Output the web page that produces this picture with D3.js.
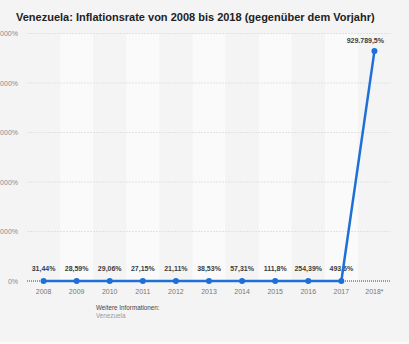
<!DOCTYPE html>
<html><head><meta charset="utf-8">
<script src="https://cdn.jsdelivr.net/npm/d3@7"></script>
<style>
html,body{margin:0;padding:0;background:#f4f4f4;}
svg{display:block;font-family:"Liberation Sans",Arial,sans-serif;}
</style></head>
<body>
<svg id="c" width="409" height="344"></svg>
<script>
const title = "Venezuela: Inflationsrate von 2008 bis 2018 (gegenüber dem Vorjahr)";
const years = ["2008","2009","2010","2011","2012","2013","2014","2015","2016","2017","2018*"];
const values = [31.44, 28.59, 29.06, 27.15, 21.11, 38.53, 57.31, 111.8, 254.39, 493.6, 929789.5];
const yTicks = [0, 200000, 400000, 600000, 800000, 1000000];
const infoLabel = "Weitere Informationen:";
const infoText = "Venezuela";

const de = d3.formatLocale({decimal:",", thousands:".", grouping:[3], currency:["","€"]});
const fmtVal = v => de.format(",.2~f")(v) + "%";
const fmtTick = v => de.format(",.0f")(v) + "%";

const svg = d3.select("#c");
svg.append("rect").attr("width",409).attr("height",344).attr("fill","#f4f4f4");
svg.append("rect").attr("y",342).attr("width",409).attr("height",2).attr("fill","#fbfbfb");

const pL = 27, pR = 391, pT = 33.5, pB = 281;
const x = d3.scaleBand().domain(years).range([pL,pR]).padding(0);
const y = d3.scaleLinear().domain([0,1000000]).range([pB, pT]);

// alternating bands
svg.append("g").selectAll("rect").data(years.filter((d,i)=>i%2===1)).join("rect")
  .attr("x", d=>x(d)).attr("y", pT).attr("width", x.bandwidth()).attr("height", pB-pT)
  .attr("fill","#fafafa");

// gridlines
svg.append("g").selectAll("line").data(yTicks.filter(d=>d>0)).join("line")
  .attr("x1",pL).attr("x2",pR).attr("y1",d=>y(d)).attr("y2",d=>y(d))
  .attr("stroke","#e2e2e2").attr("stroke-width",1).attr("stroke-dasharray","2,1");

// zero line
svg.append("line").attr("x1",pL).attr("x2",pR).attr("y1",y(0)).attr("y2",y(0))
  .attr("stroke","#9a9a9a").attr("stroke-width",2).attr("stroke-dasharray","1,1");

// y tick labels
svg.append("g").selectAll("text").data(yTicks).join("text")
  .attr("x",18).attr("y",d=>y(d)+2.5).attr("text-anchor","end")
  .attr("font-size",7).attr("fill","#8a8a8a").text(d=>fmtTick(d));

// x labels
svg.append("g").selectAll("text").data(years).join("text")
  .attr("x",d=>x(d)+x.bandwidth()/2).attr("y",294).attr("text-anchor","middle")
  .attr("font-size",7).attr("fill","#777").text(d=>d);

const pts = years.map((d,i)=>({k:d, v:values[i]}));
const cx = d=>x(d.k)+x.bandwidth()/2;

// value labels
svg.append("g").selectAll("text").data(pts).join("text")
  .attr("x",d=>d.v>1000 ? 384 : cx(d)).attr("y",d=>d.v>1000 ? y(d.v)-8 : 271)
  .attr("text-anchor",d=>d.v>1000 ? "end" : "middle").attr("font-size",7).attr("font-weight","bold")
  .attr("fill","#3c3c3c").text(d=>fmtVal(d.v));

// line
svg.append("path").datum(pts)
  .attr("d", d3.line().x(cx).y(d=>y(d.v)))
  .attr("fill","none").attr("stroke","#1f6fd8").attr("stroke-width",2.5);

svg.append("g").selectAll("circle").data(pts).join("circle")
  .attr("cx",cx).attr("cy",d=>y(d.v)).attr("r",3).attr("fill","#1f6fd8");

// title
svg.append("text").attr("x",16).attr("y",21).attr("font-size",11).attr("font-weight","bold")
  .attr("fill","#222").text(title);

// info
svg.append("text").attr("x",96).attr("y",310).attr("font-size",6.3).attr("fill","#444").text(infoLabel);
svg.append("text").attr("x",96).attr("y",318).attr("font-size",6.3).attr("fill","#999").text(infoText);
</script>
</body></html>
